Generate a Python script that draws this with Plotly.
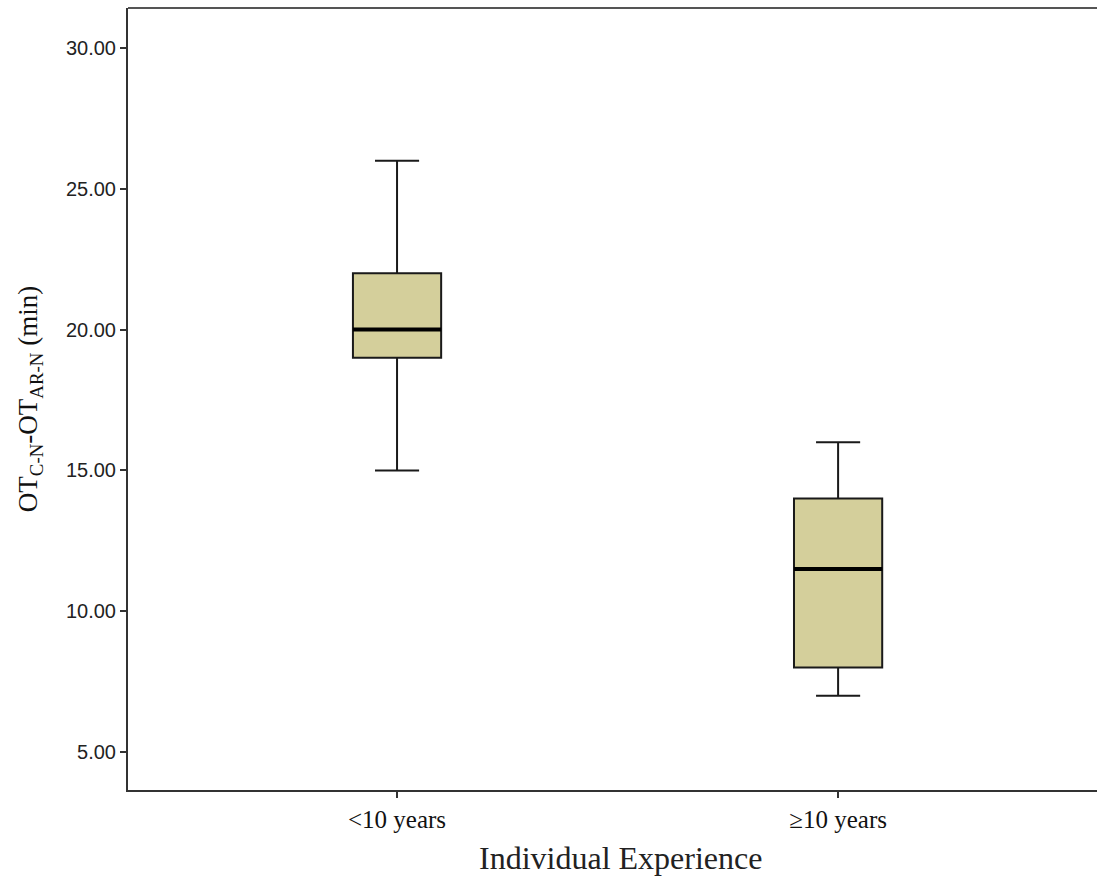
import plotly.graph_objects as go

categories = ["<10 years", "≥10 years"]
positions = [0, 1]
lower_whisker = [15.0, 7.0]
q1 = [19.0, 8.0]
median = [20.0, 11.5]
q3 = [22.0, 14.0]
upper_whisker = [26.0, 16.0]
y_ticks = [5, 10, 15, 20, 25, 30]
box_width = 0.2

fig = go.Figure()
fig.add_trace(go.Box(
    x=positions, q1=q1, median=median, q3=q3,
    lowerfence=lower_whisker, upperfence=upper_whisker,
    width=box_width, whiskerwidth=0.5,
    fillcolor="#D4CF9B", line=dict(color="#1a1a1a", width=2),
    boxpoints=False, showlegend=False, hoverinfo="skip",
))
# thicker median lines
for p, m in zip(positions, median):
    fig.add_trace(go.Scatter(
        x=[p - box_width / 2, p + box_width / 2], y=[m, m], mode="lines",
        line=dict(color="black", width=4), showlegend=False, hoverinfo="skip",
    ))

fig.update_layout(
    width=1097, height=877,
    margin=dict(l=128, r=0, t=8, b=87),
    plot_bgcolor="white", paper_bgcolor="white",
    xaxis=dict(
        range=[-0.61, 1.587], tickvals=positions, ticktext=categories,
        showline=True, linecolor="#333", linewidth=2, mirror=False,
        ticks="outside", ticklen=6, tickwidth=2, tickcolor="#333",
        showgrid=False, zeroline=False,
        tickfont=dict(family="Liberation Serif", size=25, color="#111"),
    ),
    yaxis=dict(
        range=[3.65, 31.42], tickvals=y_ticks,
        ticktext=[f"{v:.2f}" for v in y_ticks],
        showline=True, linecolor="#333", linewidth=2,
        ticks="outside", ticklen=6, tickwidth=2, tickcolor="#333",
        showgrid=False, zeroline=False,
        tickfont=dict(family="Liberation Sans", size=20, color="#222"),
        title=dict(text="OT<sub>C-N</sub>-OT<sub>AR-N</sub> (min)", standoff=20,
                   font=dict(family="Liberation Serif", size=27, color="#111")),
    ),
    shapes=[dict(type="line", xref="paper", yref="paper", x0=0, x1=1, y0=1, y1=1,
                 line=dict(color="#555", width=2))],
    annotations=[dict(
        text="Individual Experience", xref="paper", yref="paper",
        x=0.508, y=-0.087, xanchor="center", yanchor="middle", showarrow=False,
        font=dict(family="Liberation Serif", size=32, color="#222"),
    )],
)

fig.write_html(
    "out.html",
    config={"displayModeBar": False, "staticPlot": True},
    post_script="document.body.style.margin='0';document.body.style.overflow='hidden';",
)
